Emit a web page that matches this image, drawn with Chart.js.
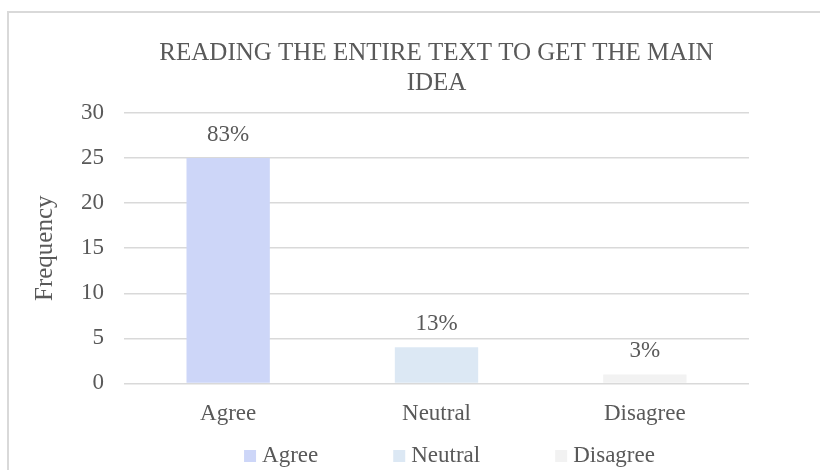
<!DOCTYPE html>
<html>
<head>
<meta charset="utf-8">
<script src="https://cdn.jsdelivr.net/npm/chart.js@4.4.0/dist/chart.umd.min.js"></script>
<style>
  html, body { margin: 0; padding: 0; background: #fff; }
  #wrap { position: relative; width: 820px; height: 470px; }
</style>
</head>
<body>
<div id="wrap"><canvas id="barChart" width="820" height="470"></canvas></div>
<script>
// chart data
var categories = ['Agree', 'Neutral', 'Disagree'];
var frequency = [25, 4, 1];
var percentLabels = ['83%', '13%', '3%'];
var barColors = ['#cdd6f8', '#dce8f4', '#f2f2f2'];
var titleLines = ['READING THE ENTIRE TEXT TO GET THE MAIN', 'IDEA'];

var serif = "'Liberation Serif', 'Times New Roman', serif";
var textGray = '#595959';

// border around the chart area, like the exported office chart
var frame = {
    id: 'frame',
    beforeDraw: function(chart) {
        var ctx = chart.ctx;
        ctx.save();
        ctx.strokeStyle = '#d9d9d9';
        ctx.lineWidth = 2;
        ctx.strokeRect(8, 12, chart.width + 10, chart.height + 10);
        ctx.restore();
    }
};

// percentage labels over each bar
var barLabels = {
    id: 'barLabels',
    afterDatasetsDraw: function(chart) {
        var ctx = chart.ctx;
        var meta = chart.getDatasetMeta(0);
        ctx.save();
        ctx.font = '23px ' + serif;
        ctx.fillStyle = textGray;
        ctx.textAlign = 'center';
        ctx.textBaseline = 'middle';
        meta.data.forEach(function(bar, i) {
            ctx.fillText(percentLabels[i], bar.x, bar.y - 23);
        });
        ctx.restore();
    }
};

// bottom legend, one entry per category (Excel spacing is wider than Chart.js allows)
var catLegend = {
    id: 'catLegend',
    afterDraw: function(chart) {
        var ctx = chart.ctx;
        var box = 12, gap = 6, spacing = 75;
        ctx.save();
        ctx.font = '23px ' + serif;
        var widths = categories.map(function(c) { return ctx.measureText(c).width; });
        var total = widths.reduce(function(a, w) { return a + box + gap + w; }, 0) + spacing * (categories.length - 1);
        var area = chart.chartArea;
        var x = (area.left + area.right) / 2 + 13 - total / 2;
        var y = 456;
        ctx.textBaseline = 'middle';
        ctx.textAlign = 'left';
        categories.forEach(function(c, i) {
            ctx.fillStyle = barColors[i];
            ctx.fillRect(x, y - box / 2, box, box);
            ctx.fillStyle = textGray;
            ctx.fillText(c, x + box + gap, y);
            x += box + gap + widths[i] + spacing;
        });
        ctx.restore();
    }
};

var chart = new Chart(document.getElementById('barChart'), {
    type: 'bar',
    data: {
        labels: categories,
        datasets: [{
            label: 'Frequency',
            data: frequency,
            backgroundColor: barColors,
            borderWidth: 0,
            barPercentage: 0.4,
            categoryPercentage: 1
        }]
    },
    options: {
        responsive: false,
        animation: false,
        layout: {
            padding: { left: 30, right: 71, top: 38, bottom: 25 }
        },
        plugins: {
            title: {
                display: true,
                fullSize: false,
                text: titleLines,
                color: textGray,
                font: { family: serif, size: 25, weight: 'normal', lineHeight: 1.2 },
                padding: { top: 0, bottom: 15 }
            },
            legend: { display: false },
            tooltip: { enabled: false }
        },
        scales: {
            x: {
                grid: { display: false, drawTicks: false },
                border: { display: false },
                ticks: {
                    color: textGray,
                    font: { family: serif, size: 23 },
                    padding: 17
                }
            },
            y: {
                min: 0,
                max: 30,
                ticks: {
                    stepSize: 5,
                    color: textGray,
                    font: { family: serif, size: 23 },
                    padding: 20
                },
                grid: { color: '#d9d9d9', lineWidth: 1.5, drawTicks: false },
                border: { display: false },
                title: {
                    display: true,
                    text: 'Frequency',
                    color: textGray,
                    font: { family: serif, size: 25 },
                    padding: { top: 0, bottom: 1 }
                }
            }
        }
    },
    plugins: [frame, barLabels, catLegend]
});
</script>
</body>
</html>
